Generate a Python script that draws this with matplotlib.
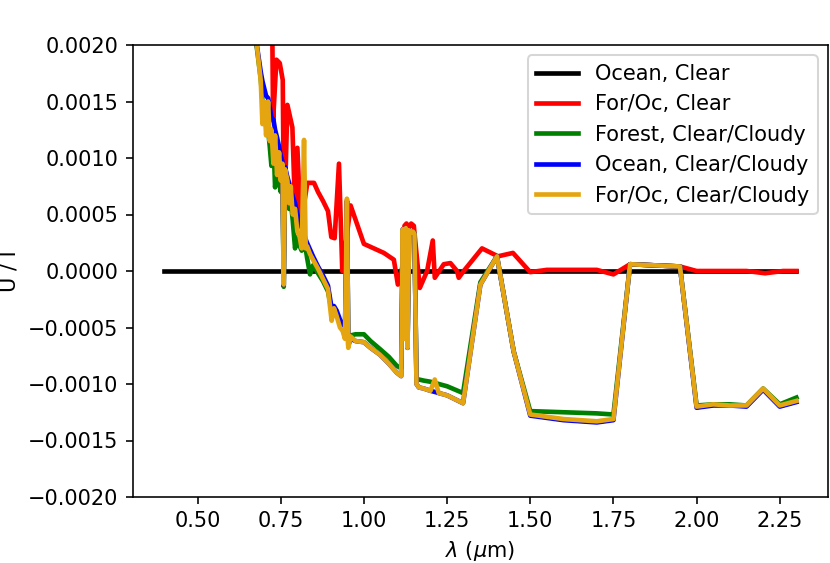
import matplotlib
matplotlib.use("Agg")
import matplotlib.pyplot as plt

# ---- data ----
lam_ocean_clear = [0.40, 2.30]
ocean_clear = [0.0, 0.0]

lam_foroc_clear = [0.722, 0.727, 0.737, 0.747, 0.756, 0.760, 0.770, 0.785, 0.795, 0.800,
                   0.810, 0.830, 0.850, 0.862, 0.877, 0.892, 0.902, 0.912, 0.925, 0.935,
                   0.960, 1.000, 1.060, 1.090, 1.102, 1.115, 1.122, 1.128, 1.135, 1.142,
                   1.150, 1.168, 1.190, 1.207, 1.213, 1.240, 1.260, 1.280, 1.285, 1.300,
                   1.355, 1.403, 1.448, 1.500, 1.550, 1.600, 1.700, 1.750, 1.800, 1.950,
                   2.000, 2.150, 2.206, 2.260, 2.300]
foroc_clear = [0.00300, 0.00133, 0.00187, 0.00184, 0.00169, 0.00036, 0.00147, 0.00127, 0.00036, 0.00109,
               0.00040, 0.00078, 0.00078, 0.00070, 0.00062, 0.00053, 0.00030, 0.00029, 0.00095, 0.00000,
               0.00058, 0.00024, 0.00016, 0.00010, -0.00012, 0.00003, 0.00040, 0.00042, 0.00038, 0.00042,
               0.00040, -0.00015, 0.00000, 0.00027, -0.00006, 0.00006, 0.00007, 0.00000, -0.00006, 0.00000,
               0.00020, 0.00013, 0.00016, -0.00001, 0.00001, 0.00001, 0.00001, -0.00003, 0.00006, 0.00004,
               0.00000, 0.00000, -0.00002, 0.00000, 0.00000]

lam_cloudy = [0.665, 0.678, 0.690, 0.695, 0.700, 0.706, 0.712, 0.717, 0.722, 0.728,
              0.733, 0.739, 0.745, 0.750, 0.755, 0.759, 0.763, 0.770, 0.775, 0.780,
              0.786, 0.793, 0.800, 0.807, 0.813, 0.820, 0.825, 0.829, 0.838, 0.847,
              0.862, 0.877, 0.892, 0.903, 0.910, 0.918, 0.928, 0.936, 0.943, 0.949,
              0.953, 0.960, 0.975, 1.000, 1.020, 1.048, 1.075, 1.099, 1.112, 1.117,
              1.121, 1.126, 1.131, 1.136, 1.142, 1.147, 1.152, 1.158, 1.165, 1.180,
              1.200, 1.213, 1.225, 1.250, 1.298, 1.350, 1.400, 1.450, 1.500, 1.600,
              1.700, 1.750, 1.800, 1.950, 2.000, 2.050, 2.100, 2.150, 2.200, 2.250,
              2.300]

ocean_cloudy = [0.00240, 0.00200, 0.00176, 0.00168, 0.00162, 0.00155, 0.00153, 0.00145, 0.00136, 0.00134,
                0.00125, 0.00118, 0.00110, 0.00102, 0.00097, -0.00012, 0.00092, 0.00083, 0.00078, 0.00072,
                0.00066, 0.00060, 0.00050, 0.00044, 0.00038, 0.00033, 0.00028, 0.00025, 0.00019, 0.00013,
                0.00004, -0.00004, -0.00013, -0.00033, -0.00031, -0.00035, -0.00043, -0.00048, -0.00056, 0.00062,
                -0.00066, -0.00060, -0.00062, -0.00063, -0.00068, -0.00074, -0.00082, -0.00090, -0.00093, 0.00037,
                -0.00060, 0.00038, -0.00068, 0.00036, 0.00034, 0.00035, 0.00033, -0.00100, -0.00103, -0.00104,
                -0.00106, -0.00107, -0.00108, -0.00110, -0.00117, -0.00012, 0.00013, -0.00071, -0.00128, -0.00132,
                -0.00134, -0.00132, 0.00006, 0.00004, -0.00121, -0.00119, -0.00119, -0.00120, -0.00105, -0.00120,
                -0.00116]

forest_cloudy = [0.00240, 0.00198, 0.00170, 0.00150, 0.00135, 0.00140, 0.00125, 0.00110, 0.00093, 0.00115,
                 0.00074, 0.00095, 0.00080, 0.00070, 0.00085, -0.00014, 0.00080, 0.00068, 0.00055, 0.00062,
                 0.00045, 0.00020, 0.00030, 0.00022, 0.00018, 0.00025, 0.00020, 0.00012, -0.00003, 0.00005,
                 -0.00002, -0.00009, -0.00018, -0.00035, -0.00033, -0.00038, -0.00045, -0.00050, -0.00058, 0.00062,
                 -0.00066, -0.00057, -0.00056, -0.00056, -0.00062, -0.00069, -0.00076, -0.00084, -0.00086, 0.00037,
                 -0.00060, 0.00038, -0.00068, 0.00036, 0.00034, 0.00035, 0.00033, -0.00096, -0.00096, -0.00097,
                 -0.00098, -0.00099, -0.00100, -0.00102, -0.00108, -0.00010, 0.00013, -0.00071, -0.00124, -0.00125,
                 -0.00126, -0.00127, 0.00006, 0.00004, -0.00119, -0.00118, -0.00118, -0.00119, -0.00104, -0.00118,
                 -0.00112]

foroc_cloudy = [0.00240, 0.00200, 0.00168, 0.00130, 0.00150, 0.00120, 0.00150, 0.00115, 0.00125, 0.00095,
                0.00120, 0.00085, 0.00105, 0.00080, 0.00095, -0.00012, 0.00090, 0.00080, 0.00060, 0.00075,
                0.00050, 0.00055, 0.00035, 0.00030, 0.00020, 0.00116, 0.00020, 0.00022, 0.00015, 0.00010,
                0.00002, -0.00007, -0.00016, -0.00044, -0.00033, -0.00040, -0.00050, -0.00053, -0.00060, 0.00064,
                -0.00068, -0.00058, -0.00062, -0.00063, -0.00068, -0.00074, -0.00082, -0.00090, -0.00093, 0.00037,
                -0.00060, 0.00038, -0.00068, 0.00036, 0.00034, 0.00035, 0.00033, -0.00100, -0.00103, -0.00104,
                -0.00106, -0.00096, -0.00108, -0.00110, -0.00117, -0.00012, 0.00013, -0.00071, -0.00127, -0.00131,
                -0.00133, -0.00131, 0.00006, 0.00004, -0.00120, -0.00118, -0.00119, -0.00119, -0.00104, -0.00119,
                -0.00115]

labels = ["Ocean, Clear", "For/Oc, Clear", "Forest, Clear/Cloudy",
          "Ocean, Clear/Cloudy", "For/Oc, Clear/Cloudy"]
xtick_vals = [0.5, 0.75, 1.0, 1.25, 1.5, 1.75, 2.0, 2.25]
xtick_labels = ["0.50", "0.75", "1.00", "1.25", "1.50", "1.75", "2.00", "2.25"]
ytick_vals = [-0.002, -0.0015, -0.001, -0.0005, 0.0, 0.0005, 0.001, 0.0015, 0.002]

# ---- figure ----
plt.rcParams["font.size"] = 10.4
DPI = 145
fig = plt.figure(figsize=(830 / DPI, 563 / DPI), dpi=DPI)
ax = fig.add_axes([132.7 / 830, (563 - 497) / 563, (828 - 132.7) / 830, (497 - 45) / 563])

lw = 2.3
ax.plot(lam_ocean_clear, ocean_clear, color="black", lw=lw, label=labels[0])
ax.plot(lam_foroc_clear, foroc_clear, color="red", lw=lw, label=labels[1])
ax.plot(lam_cloudy, forest_cloudy, color="green", lw=lw, label=labels[2])
ax.plot(lam_cloudy, ocean_cloudy, color="blue", lw=lw, label=labels[3])
ax.plot(lam_cloudy, foroc_cloudy, color="#E5A510", lw=lw, label=labels[4])

ax.set_xlim(0.305, 2.395)
ax.set_ylim(-0.002, 0.002)
ax.set_yticks(ytick_vals)
ax.yaxis.set_major_formatter(matplotlib.ticker.FuncFormatter(
    lambda v, p: ("%.4f" % v).replace("-", "\u2212") if abs(v) > 1e-12 else "0.0000"))
ax.set_xticks(xtick_vals)
ax.set_xticklabels(xtick_labels)

ax.set_xlabel(r"$\lambda$ ($\mu$m)")
ax.set_ylabel("U / I")
ax.yaxis.set_label_coords(-0.163, 0.5)

ax.legend(loc="upper right")

fig.savefig("out.png", dpi=DPI)
